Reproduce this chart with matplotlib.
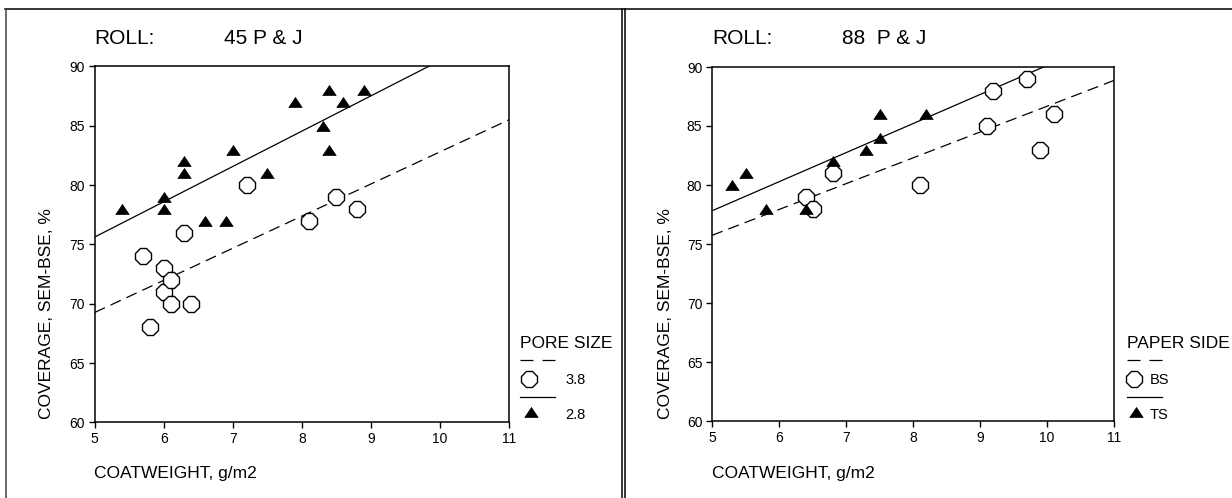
import numpy as np
import matplotlib
matplotlib.use("Agg")
import matplotlib.pyplot as plt
from matplotlib.lines import Line2D

plt.rcParams['font.family'] = ['Liberation Sans', 'DejaVu Sans']

# ---- data -------------------------------------------------------------
roll_45_x_38 = [5.7, 5.8, 6.0, 6.0, 6.1, 6.1, 6.3, 6.4, 7.2, 8.1, 8.5, 8.8]
roll_45_y_38 = [74, 68, 73, 71, 72, 70, 76, 70, 80, 77, 79, 78]
roll_45_x_28 = [5.4, 6.0, 6.0, 6.3, 6.3, 6.6, 6.9, 7.0, 7.5, 7.9, 8.3, 8.4, 8.4, 8.6, 8.9]
roll_45_y_28 = [78, 79, 78, 82, 81, 77, 77, 83, 81, 87, 85, 88, 83, 87, 88]

roll_88_x_bs = [6.4, 6.5, 6.8, 8.1, 9.1, 9.2, 9.7, 9.9, 10.1]
roll_88_y_bs = [79, 78, 81, 80, 85, 88, 89, 83, 86]
roll_88_x_ts = [5.3, 5.5, 5.8, 6.4, 6.8, 7.3, 7.5, 7.5, 8.2]
roll_88_y_ts = [80, 81, 78, 78, 82, 83, 86, 84, 86]

x_ticks = [5, 6, 7, 8, 9, 10, 11]
y_ticks = [60, 65, 70, 75, 80, 85, 90]

W, H = 1232, 498
fig = plt.figure(figsize=(W / 100, H / 100), dpi=100)
fig.patch.set_facecolor('white')


def fx(px):
    return px / W


def fy(py):
    return 1 - py / H


# wider-than-tall triangle marker
tri = [(-1, -0.75), (1, -0.75), (0, 0.75), (-1, -0.75)]
dash = (0, (9, 5))
OCT_MS = 12.5
TRI_MS = 9.6


def panel(left, right, top, bottom, xo, yo, xf, yf):
    ax = fig.add_axes([fx(left), fy(bottom), fx(right - left), (bottom - top) / H])
    ax.set_xlim(5, 11)
    ax.set_ylim(60, 90)
    ax.set_xticks(x_ticks)
    ax.set_yticks(y_ticks)
    ax.tick_params(direction='out', length=4, width=1, labelsize=10, pad=3,
                   top=False, right=False, colors='black')
    for s in ax.spines.values():
        s.set_linewidth(1.1)
    xx = np.array([5.0, 11.0])
    b1, a1 = np.polyfit(xo, yo, 1)
    b2, a2 = np.polyfit(xf, yf, 1)
    ax.plot(xx, a1 + b1 * xx, color='black', lw=0.9, ls=dash, zorder=2)
    ax.plot(xx, a2 + b2 * xx, color='black', lw=0.9, ls='-', zorder=2)
    ax.plot(xo, yo, ls='none', marker='8', ms=OCT_MS, mfc='white', mec='black',
            mew=1.0, zorder=3)
    ax.plot(xf, yf, ls='none', marker=tri, ms=TRI_MS, mfc='black', mec='black',
            mew=0.5, zorder=4)
    return ax


panel(94.7, 509, 66.5, 422.3, roll_45_x_38, roll_45_y_38, roll_45_x_28, roll_45_y_28)
panel(712, 1114, 67, 421, roll_88_x_bs, roll_88_y_bs, roll_88_x_ts, roll_88_y_ts)

# titles and axis labels
for x0, name in [(94, '45 P & J'), (712, '88  P & J')]:
    fig.text(fx(x0), fy(39), 'ROLL:', fontsize=15, ha='left', va='center')
    fig.text(fx(x0 + 130), fy(39), name, fontsize=15, ha='left', va='center')
    fig.text(fx(x0), fy(473), 'COATWEIGHT, g/m2', fontsize=12.5, ha='left', va='center')
    fig.text(fx(x0 - 47), fy(314), 'COVERAGE, SEM-BSE, %', fontsize=12.5,
             rotation=90, ha='center', va='center')


def legend(x0, title, lab1, lab2, mx, tx):
    fig.text(fx(x0), fy(343), title, fontsize=12.5, ha='left', va='center')
    fig.add_artist(Line2D([fx(x0), fx(x0 + 35)], [fy(360), fy(360)], color='black',
                          lw=0.9, ls=(0, (10.4, 7.2)), transform=fig.transFigure))
    fig.add_artist(Line2D([fx(mx)], [fy(379)], ls='none', marker='8', ms=OCT_MS,
                          mfc='white', mec='black', mew=1.0, transform=fig.transFigure))
    fig.text(fx(tx), fy(380), lab1, fontsize=10.5, ha='left', va='center')
    fig.add_artist(Line2D([fx(x0), fx(x0 + 35)], [fy(397), fy(397)], color='black',
                          lw=0.9, transform=fig.transFigure))
    fig.add_artist(Line2D([fx(mx + 2)], [fy(412)], ls='none', marker=tri, ms=TRI_MS,
                          mfc='black', mec='black', mew=0.5, transform=fig.transFigure))
    fig.text(fx(tx), fy(415), lab2, fontsize=10.5, ha='left', va='center')


legend(520, 'PORE SIZE', '3.8', '2.8', 529, 565)
legend(1127, 'PAPER SIDE', 'BS', 'TS', 1134, 1150)

# panel frames
frame = dict(color='black', lw=1.1, transform=fig.transFigure)
fig.add_artist(Line2D([fx(5), 1], [fy(9), fy(9)], **frame))
fig.add_artist(Line2D([fx(5.5), fx(5.5)], [fy(9), 0], color='#444444', lw=1.1,
                      transform=fig.transFigure))
fig.add_artist(Line2D([fx(622.3), fx(622.3)], [fy(9), 0], **frame))
fig.add_artist(Line2D([fx(624.6), fx(624.6)], [fy(9), 0], **frame))

fig.savefig('out.png', dpi=100, facecolor='white')
